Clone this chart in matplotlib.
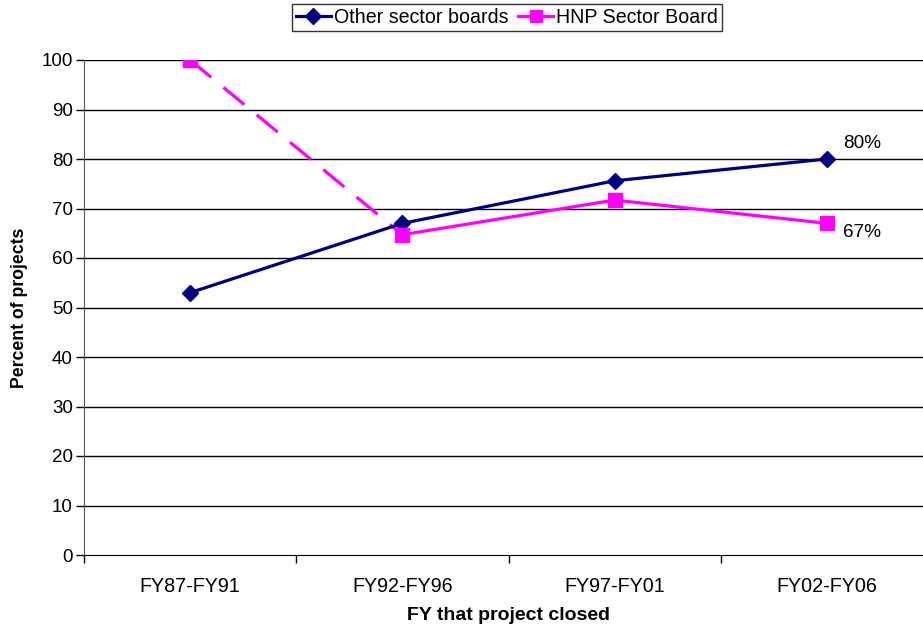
import matplotlib
matplotlib.use("Agg")
import matplotlib.pyplot as plt
from matplotlib.lines import Line2D

plt.rcParams['font.family'] = ['Liberation Sans', 'DejaVu Sans']

categories = ["FY87-FY91", "FY92-FY96", "FY97-FY01", "FY02-FY06"]
other_boards = [53, 67, 75.6, 80]
hnp_board = [100, 64.7, 71.7, 67]
yticks = list(range(0, 101, 10))

navy = "#000080"
magenta = "#FF00FF"

W, H = 923, 631
fig = plt.figure(figsize=(W / 100, H / 100), dpi=100)
ax = fig.add_axes([84 / W, (H - 555) / H, (933 - 84) / W, (555 - 60) / H])

x = list(range(len(categories)))

# gridlines
for v in yticks[1:]:
    ax.axhline(v, color="black", lw=1.0, zorder=1)

# Other sector boards
ax.plot(x, other_boards, color=navy, lw=2.3, marker="D", ms=8.5,
        markerfacecolor=navy, markeredgecolor=navy, zorder=3)

# HNP: first interval dashed, rest solid
ax.plot(x[:2], hnp_board[:2], color=magenta, lw=2.3, ls=(0, (8.5, 5)), zorder=2)
ax.plot(x[1:], hnp_board[1:], color=magenta, lw=2.3, zorder=2)
ax.plot(x, hnp_board, ls="none", marker="s", ms=10, color=magenta, zorder=4)

ax.annotate(f"{other_boards[-1]:.0f}%", (x[-1], other_boards[-1]), xytext=(11.5, 11.5),
            textcoords="offset points", fontsize=13.7, va="center", ha="left")
ax.annotate(f"{hnp_board[-1]:.0f}%", (x[-1], hnp_board[-1]), xytext=(11.5, -6.5),
            textcoords="offset points", fontsize=13.7, va="center", ha="left")

ax.set_xlim(-0.5, 3.5)
ax.set_ylim(0, 100)
ax.set_yticks(yticks)
ax.set_yticklabels([str(v) for v in yticks], fontsize=13.5)
ax.tick_params(axis="y", direction="out", length=6, width=1, pad=2)

ax.set_xticks([i - 0.5 for i in range(len(categories) + 1)])
ax.set_xticklabels([])
ax.set_xticks(x, minor=True)
ax.set_xticklabels(categories, minor=True, fontsize=14.2)
ax.tick_params(axis="x", which="major", direction="out", length=6, width=1)
ax.tick_params(axis="x", which="minor", length=0, pad=16)

for s in ("top", "right"):
    ax.spines[s].set_visible(False)
ax.spines["left"].set_color("#555555")
ax.spines["bottom"].set_color("black")

ax.set_ylabel("Percent of projects", fontsize=12.7, fontweight="bold", labelpad=10)
ax.set_xlabel("FY that project closed", fontsize=14, fontweight="bold", labelpad=8)
ax.set_facecolor("white")

handles = [
    Line2D([], [], color=navy, lw=2.3, marker="D", ms=8),
    Line2D([], [], color=magenta, lw=2.3, marker="s", ms=9),
]
fig.legend(handles, ["Other sector boards", "HNP Sector Board"], loc="upper center",
           bbox_to_anchor=(507 / W, 1 - 4 / H), ncol=2, fontsize=14.1, frameon=True,
           fancybox=False, edgecolor="black", handlelength=1.8, handletextpad=0.15,
           columnspacing=0.5, borderpad=0.2, borderaxespad=0)

fig.savefig("out.png", dpi=100, facecolor="white")
